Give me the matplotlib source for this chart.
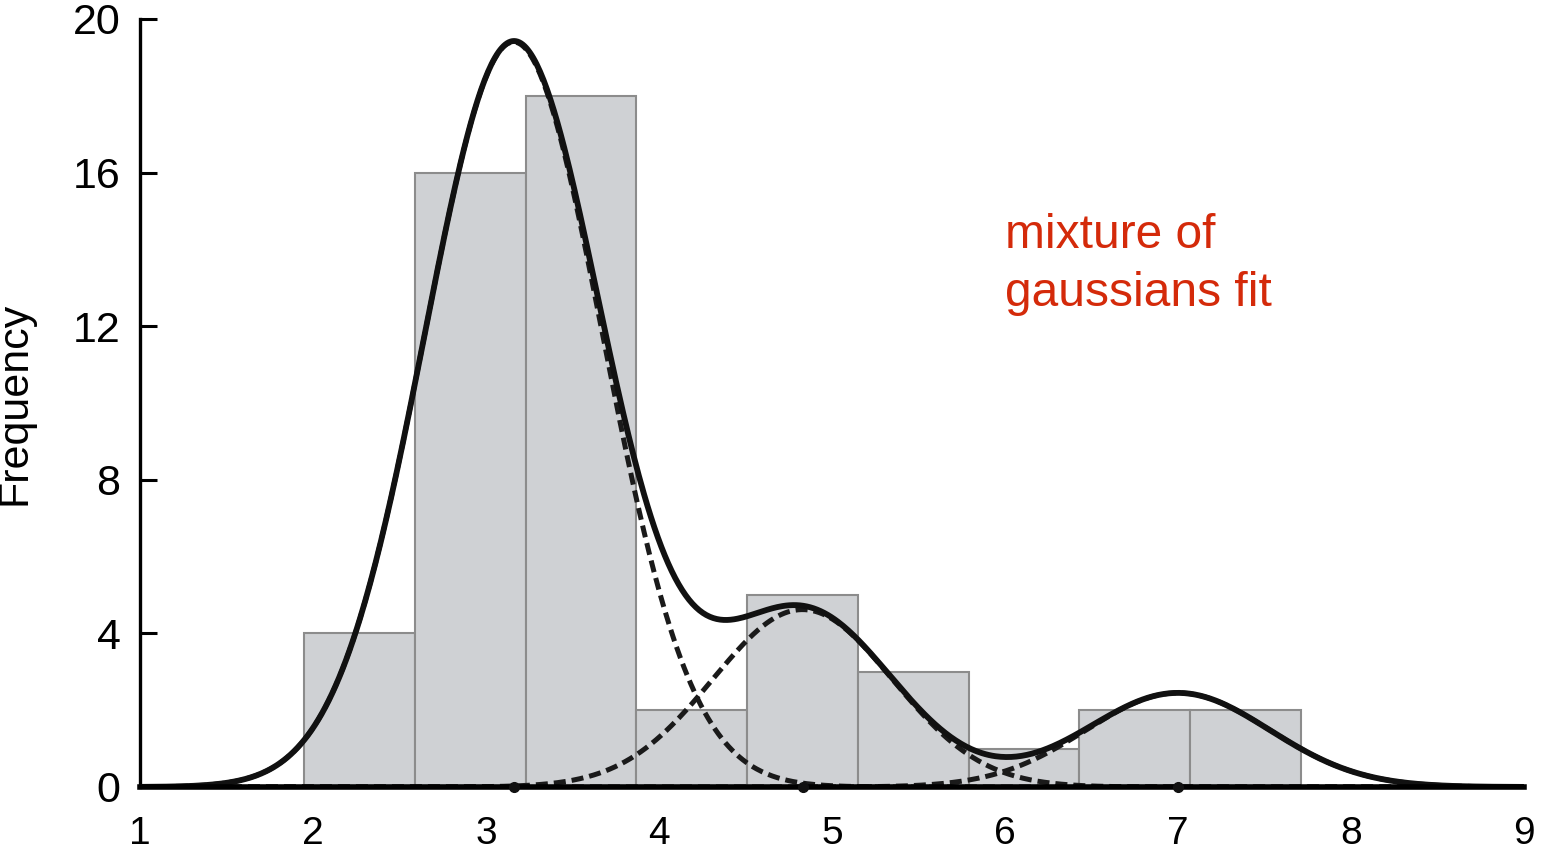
import numpy as np
import matplotlib.pyplot as plt

plt.rcParams['font.family'] = ['Liberation Sans', 'DejaVu Sans']

# histogram (bin edges and counts)
bin_edges = [1.95, 2.59, 3.23, 3.87, 4.51, 5.15, 5.79, 6.43, 7.07, 7.71]
counts = [4, 16, 18, 2, 5, 3, 1, 2, 2]

# fitted gaussian components: mean, std, peak height
means = [3.16, 4.83, 7.0]
sigmas = [0.515, 0.52, 0.53]
peaks = [19.4, 4.62, 2.45]

y_ticks = [0, 4, 8, 12, 16, 20]
x_ticks = [1, 2, 3, 4, 5, 6, 7, 8, 9]

fig = plt.figure(figsize=(15.55, 8.52), dpi=100)
ax = fig.add_axes([0.09, 0.0763, 0.89, 0.9014])

widths = np.diff(bin_edges)
ax.bar(bin_edges[:-1], counts, width=widths, align='edge',
       color='#cfd1d4', edgecolor='#8c8c8c', linewidth=1.5, zorder=1)

x = np.linspace(1.0, 9.0, 800)
comps = [p * np.exp(-(x - m) ** 2 / (2 * s ** 2)) for m, s, p in zip(means, sigmas, peaks)]
for c in comps:
    ax.plot(x, c, color='#1a1a1a', lw=3.6, linestyle=(0, (2.4, 1.2)), zorder=3)
ax.plot(x, np.sum(comps, axis=0), color='#111111', lw=4.2, zorder=4, solid_capstyle='round')

# component centres on the axis
ax.plot(means, [0] * len(means), 'o', color='#111111', ms=7, zorder=7, clip_on=False)

ax.text(6.0, 14.95, 'mixture of\ngaussians fit', color='#d42a0a', fontsize=34.5,
        ha='left', va='top', linespacing=1.38)

ax.set_xlim(1, 9)
ax.set_ylim(0, 20)
ax.set_xticks(x_ticks)
ax.set_yticks(y_ticks)
ax.tick_params(axis='y', direction='in', length=12, width=2.2, labelsize=31, pad=14)
ax.tick_params(axis='x', length=0, labelsize=28, pad=21)
for side in ['top', 'right']:
    ax.spines[side].set_visible(False)
ax.spines['left'].set_linewidth(2.4)
ax.spines['bottom'].set_linewidth(4)
ax.spines['bottom'].set_zorder(6)

ax.set_ylabel('Frequency', fontsize=31)
ax.yaxis.set_label_coords(-0.076, 0.5)

fig.savefig('out.png', dpi=100)
